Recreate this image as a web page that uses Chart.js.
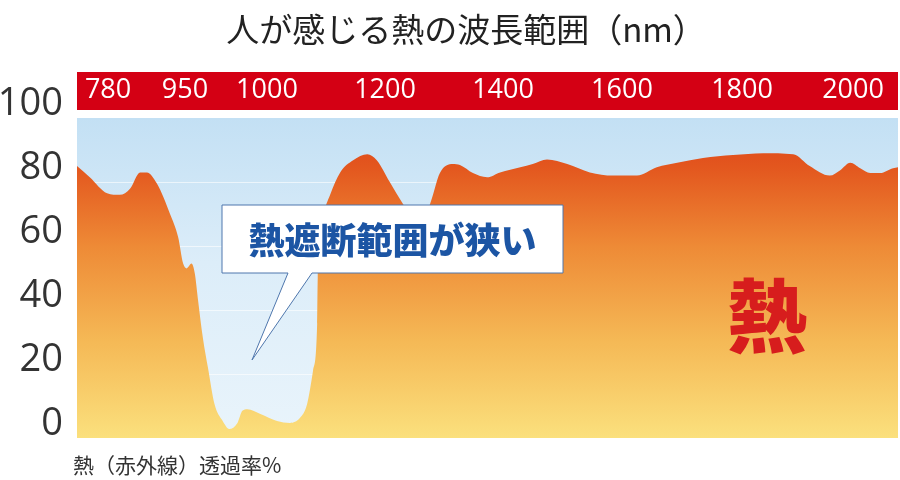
<!DOCTYPE html>
<html lang="ja">
<head>
<meta charset="utf-8">
<title>人が感じる熱の波長範囲</title>
<script src="https://cdn.jsdelivr.net/npm/chart.js@4.4.1/dist/chart.umd.min.js"></script>
<style>
  html, body { margin: 0; padding: 0; background: #fff; }
  #wrap { width: 900px; height: 480px; }
</style>
</head>
<body>
<div id="wrap"><canvas id="heatChart"></canvas></div>
<script>
// 波長 (nm)
const wavelengths = [712, 740, 778, 806, 829, 851, 866, 888, 917, 935, 946, 951, 954, 956, 958, 961, 964, 968, 973, 977,
  982, 985, 988, 996, 1017, 1039, 1056, 1068, 1078, 1085, 1086, 1095, 1107, 1124, 1146, 1170, 1186, 1208, 1231, 1254,
  1276, 1293, 1315, 1327, 1349, 1373, 1395, 1429, 1450, 1474, 1508, 1546, 1585, 1625, 1658, 1692, 1735, 1785, 1838, 1892,
  1922, 1958, 1977, 1995, 2013, 2031, 2049, 2072, 2081];
// 熱（赤外線）透過率 (%)
const transmission = [85, 81.5, 76.5, 76, 78, 83, 83, 79.5, 70, 62.7, 54.5, 53, 54.5, 51.4, 43, 31, 22, 10.6, 5.3, 2.8,
  4.7, 8.5, 9, 7.5, 5.3, 4.7, 6.3, 10.6, 21, 35.7, 50, 69, 76, 83, 86.8, 88.7, 86.8, 80, 73, 67,
  73, 82.8, 85.6, 85.3, 82.8, 81.5, 83, 84.6, 85.6, 87, 85.6, 83, 82, 82, 84.6, 86, 87.5, 88.4, 89, 88.7,
  85, 82, 83.7, 86, 84.3, 82.8, 82.8, 84.3, 84.6];
// 上の目盛り (nm)
const topTicks = [780, 950, 1000, 1200, 1400, 1600, 1800, 2000];

// 目盛りが等間隔ではないので、区間ごとに線形に割り付ける
const axisNm  = [712, 780, 950, 1000, 1200, 1400, 1600, 1800, 2000, 2081];
const axisPos = [0, 0.0378, 0.1315, 0.2314, 0.3752, 0.5189, 0.6638, 0.8100, 0.9452, 1];

class PiecewiseScale extends Chart.LinearScale {
  getPixelForValue(value) {
    let i = 1;
    while (i < axisNm.length - 1 && value > axisNm[i]) i++;
    const t = (value - axisNm[i - 1]) / (axisNm[i] - axisNm[i - 1]);
    return this.getPixelForDecimal(axisPos[i - 1] + t * (axisPos[i] - axisPos[i - 1]));
  }
  getValueForPixel(pixel) {
    const d = this.getDecimalForPixel(pixel);
    let i = 1;
    while (i < axisPos.length - 1 && d > axisPos[i]) i++;
    const t = (d - axisPos[i - 1]) / (axisPos[i] - axisPos[i - 1]);
    return axisNm[i - 1] + t * (axisNm[i] - axisNm[i - 1]);
  }
}
PiecewiseScale.id = 'piecewise';
PiecewiseScale.defaults = Chart.LinearScale.defaults;
Chart.register(PiecewiseScale);

const jp = '"Noto Sans CJK JP", "Noto Sans", sans-serif';

const decor = {
  id: 'decor',
  beforeDraw(chart) {
    const { ctx, chartArea: a, scales: { x } } = chart;
    ctx.save();
    // 背景の空色
    const bg = ctx.createLinearGradient(0, a.top, 0, a.bottom);
    bg.addColorStop(0, '#c3e0f4');
    bg.addColorStop(0.45, '#dcedf9');
    bg.addColorStop(1, '#e9f4fb');
    ctx.fillStyle = bg;
    ctx.fillRect(a.left, a.top, a.right - a.left, a.bottom - a.top);
    // 赤い帯
    ctx.fillStyle = '#d40014';
    ctx.fillRect(a.left, x.top, a.right - a.left, x.bottom - x.top - 8);
    ctx.restore();
  },
  afterDraw(chart) {
    const { ctx, chartArea: a } = chart;
    ctx.save();
    // タイトル
    ctx.fillStyle = '#222';
    ctx.font = '33px ' + jp;
    ctx.textAlign = 'center';
    ctx.textBaseline = 'middle';
    ctx.fillText('人が感じる熱の波長範囲（nm）', 466, 29);
    // 下の注記
    ctx.fillStyle = '#333';
    ctx.font = '21px ' + jp;
    ctx.textAlign = 'left';
    ctx.fillText('熱（赤外線）透過率%', 73, 465);

    // 吹き出し
    const bx = a.left + 145, by = a.top + 87, bw = 341, bh = 68;
    ctx.beginPath();
    ctx.moveTo(bx, by);
    ctx.lineTo(bx + bw, by);
    ctx.lineTo(bx + bw, by + bh);
    ctx.lineTo(bx + 90, by + bh);
    ctx.lineTo(bx + 30, by + bh + 87);
    ctx.lineTo(bx + 66, by + bh);
    ctx.lineTo(bx, by + bh);
    ctx.closePath();
    ctx.fillStyle = '#ffffff';
    ctx.fill();
    ctx.strokeStyle = '#4f77ad';
    ctx.lineWidth = 1;
    ctx.stroke();
    ctx.fillStyle = '#1c55a4';
    ctx.font = '900 36px ' + jp;
    ctx.textAlign = 'center';
    ctx.fillText('熱遮断範囲が狭い', bx + bw / 2, by + bh / 2 + 1);

    // 熱
    ctx.fillStyle = '#d71d1d';
    ctx.font = '900 80px ' + jp;
    ctx.fillText('熱', 767, 316);
    ctx.restore();
  }
};

const ctx = document.getElementById('heatChart');
new Chart(ctx, {
  type: 'line',
  data: {
    datasets: [{
      label: '熱透過率',
      data: wavelengths.map((w, i) => ({ x: w, y: transmission[i] })),
      borderWidth: 0,
      pointRadius: 0,
      cubicInterpolationMode: 'monotone',
      fill: 'origin',
      backgroundColor(c) {
        const a = c.chart.chartArea;
        if (!a) return '#ee8a35';
        const g = c.chart.ctx.createLinearGradient(0, a.top, 0, a.bottom);
        g.addColorStop(0, '#dc4219');
        g.addColorStop(0.15, '#e3561e');
        g.addColorStop(0.4, '#ee8a36');
        g.addColorStop(0.7, '#f5b956');
        g.addColorStop(1, '#fbe07d');
        return g;
      }
    }]
  },
  options: {
    responsive: true,
    maintainAspectRatio: false,
    animation: false,
    layout: { padding: { top: 72, right: 2, bottom: 42, left: 0 } },
    plugins: {
      legend: { display: false },
      tooltip: { enabled: false }
    },
    scales: {
      x: {
        type: 'piecewise',
        position: 'top',
        min: 712,
        max: 2081,
        afterBuildTicks: s => { s.ticks = topTicks.map(v => ({ value: v })); },
        afterFit: s => { s.height = 46; },
        grid: { display: false, drawTicks: false },
        border: { display: false },
        ticks: {
          color: '#ffffff',
          font: { size: 27, family: '"Open Sans", sans-serif' },
          padding: 11,
          maxRotation: 0,
          autoSkip: false,
          callback: v => String(v)
        }
      },
      y: {
        min: 0,
        max: 100,
        z: 1,
        afterFit: s => { s.width = 77; },
        grid: {
          drawTicks: false,
          color: c => (c.tick.value === 0 || c.tick.value === 100) ? 'rgba(0,0,0,0)' : 'rgba(255,255,255,0.6)'
        },
        border: { display: false },
        ticks: {
          stepSize: 20,
          color: '#333',
          font: { size: 38, family: '"Open Sans", sans-serif' },
          padding: 14,
          labelOffset: -14
        }
      }
    }
  },
  plugins: [decor]
});
</script>
</body>
</html>
